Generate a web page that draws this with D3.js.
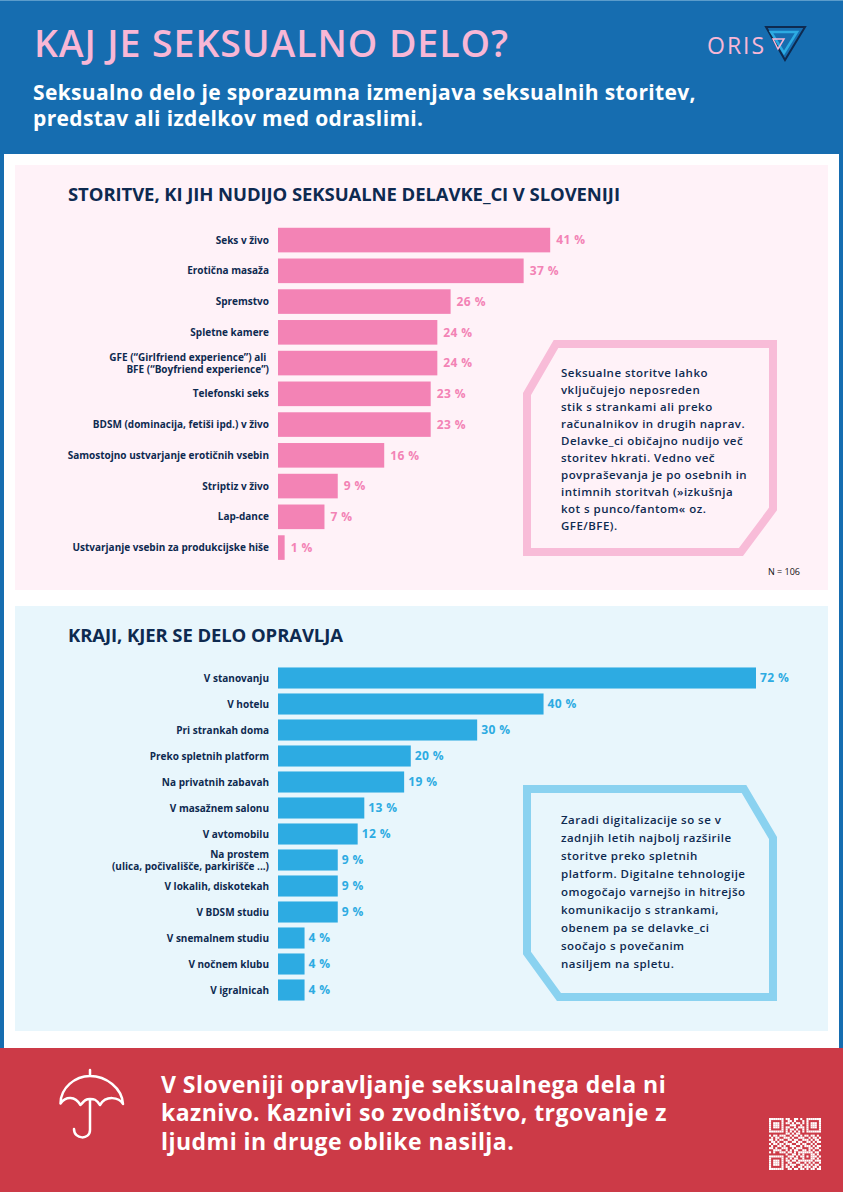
<!DOCTYPE html>
<html lang="sl">
<head>
<meta charset="utf-8">
<title>Kaj je seksualno delo?</title>
<script src="https://cdnjs.cloudflare.com/ajax/libs/d3/7.8.5/d3.min.js"></script>
<style>
  html, body { margin: 0; padding: 0; background: #fff; }
  svg { display: block; }
  text { font-family: "Open Sans", sans-serif; }
</style>
</head>
<body>
<div id="chart"></div>
<script>
// Storitve
const serviceLabels = [
    'Seks v živo',
    'Erotična masaža',
    'Spremstvo',
    'Spletne kamere',
    'GFE (“Girlfriend experience”) ali |BFE (“Boyfriend experience”)',
    'Telefonski seks',
    'BDSM (dominacija, fetiši ipd.) v živo',
    'Samostojno ustvarjanje erotičnih vsebin',
    'Striptiz v živo',
    'Lap-dance',
    'Ustvarjanje vsebin za produkcijske hiše'
];
const serviceValues = [41, 37, 26, 24, 24, 23, 23, 16, 9, 7, 1];

// Kraji
const placeLabels = [
    'V stanovanju',
    'V hotelu',
    'Pri strankah doma',
    'Preko spletnih platform',
    'Na privatnih zabavah',
    'V masažnem salonu',
    'V avtomobilu',
    'Na prostem|(ulica, počivališče, parkirišče ...)',
    'V lokalih, diskotekah',
    'V BDSM studiu',
    'V snemalnem studiu',
    'V nočnem klubu',
    'V igralnicah'
];
const placeValues = [72, 40, 30, 20, 19, 13, 12, 9, 9, 9, 4, 4, 4];

const subtitleLines = [
    'Seksualno delo je sporazumna izmenjava seksualnih storitev,',
    'predstav ali izdelkov med odraslimi.'
];
const serviceNote = [
    'Seksualne storitve lahko',
    'vključujejo neposreden',
    'stik s strankami ali preko',
    'računalnikov in drugih naprav.',
    'Delavke_ci običajno nudijo več',
    'storitev hkrati. Vedno več',
    'povpraševanja je po osebnih in',
    'intimnih storitvah (»izkušnja',
    'kot s punco/fantom« oz.',
    'GFE/BFE).'
];
const placeNote = [
    'Zaradi digitalizacije so se v',
    'zadnjih letih najbolj razširile',
    'storitve preko spletnih',
    'platform. Digitalne tehnologije',
    'omogočajo varnejšo in hitrejšo',
    'komunikacijo s strankami,',
    'obenem pa se delavke_ci',
    'soočajo s povečanim',
    'nasiljem na spletu.'
];
const footerLines = [
    'V Sloveniji opravljanje seksualnega dela ni',
    'kaznivo. Kaznivi so zvodništvo, trgovanje z',
    'ljudmi in druge oblike nasilja.'
];
const qrRows = [
    '1111111011001101001111111',
    '1000001001101000101000001',
    '1011101011010110101011101',
    '1011101000111001001011101',
    '1011101011001011101011101',
    '1000001010110100101000001',
    '1111111010101010101111111',
    '0000000011010110000000000',
    '1011011100101101011011010',
    '0101100111010011100101101',
    '1101011001101100111010110',
    '0110100110011011001101011',
    '1011011011100110110010100',
    '0100110100111001011101011',
    '1101001110010111000110110',
    '0011110010101100110101001',
    '1010011101101011111110110',
    '0000000010011010100011010',
    '1111111001110101101011101',
    '1000001010101100100011010',
    '1011101011011011111110111',
    '1011101001100110010101001',
    '1011101010111001101010110',
    '1000001011010011011101101',
    '1111111001101101101011011'
];

const navy = '#0e2a50';
const svg = d3.select('#chart').append('svg').attr('width', 843).attr('height', 1192);

// Ozadje
svg.append('rect').attr('width', 843).attr('height', 1192).attr('fill', '#166db0');
svg.append('rect').attr('width', 843).attr('height', 1).attr('fill', '#5b9ccb');
svg.append('rect').attr('x', 4).attr('y', 154).attr('width', 835).attr('height', 894).attr('fill', '#fff');
svg.append('rect').attr('x', 15).attr('y', 165).attr('width', 813).attr('height', 425).attr('fill', '#fff2f8');
svg.append('rect').attr('x', 15).attr('y', 606).attr('width', 813).attr('height', 425).attr('fill', '#e8f6fc');
svg.append('rect').attr('y', 1048).attr('width', 843).attr('height', 144).attr('fill', '#cc3a47');

// Glava
svg.append('text').attr('x', 34).attr('y', 57).attr('font-size', 37.5).attr('font-weight', 600)
    .attr('fill', '#f8b7d6').attr('textLength', 474).attr('lengthAdjust', 'spacing')
    .text('KAJ JE SEKSUALNO DELO?');
svg.append('text').attr('font-size', 21).attr('font-weight', 700)
    .attr('letter-spacing', 0.35).attr('fill', '#fff')
    .selectAll('tspan').data(subtitleLines).join('tspan')
    .attr('x', 33).attr('y', (d, i) => 100 + i * 26).text(d => d);

// Logotip
svg.append('text').attr('x', 707).attr('y', 54).attr('font-size', 23).attr('letter-spacing', 2)
    .attr('fill', '#f8b7d6').text('ORIS');
const triangle = (a, b, c, color, width) => svg.append('path')
    .attr('d', d3.line()([a, b, c]) + 'Z')
    .attr('fill', 'none').attr('stroke', color).attr('stroke-width', width);
triangle([766, 27], [805, 27], [785, 60], navy, 2);
triangle([771, 32], [797, 32], [784, 53], '#2dabe2', 2.5);
triangle([773, 39], [784, 39], [778, 49], '#f8b7d6', 1.5);

// Stolpični graf
function drawBars(cfg) {
    const x = d3.scaleLinear().domain([0, 72]).range([278, 756]);
    const y = d3.scaleBand().domain(cfg.labels)
        .range([cfg.top, cfg.top + cfg.step * cfg.labels.length]).paddingInner(cfg.gap).paddingOuter(cfg.gap / 2);
    const g = svg.append('g');

    g.append('text').attr('x', 68).attr('y', cfg.titleY).attr('font-size', 18.5).attr('font-weight', 700)
        .attr('fill', navy).attr('textLength', cfg.titleWidth).attr('lengthAdjust', 'spacing')
        .text(cfg.title);

    g.selectAll('rect.bar').data(cfg.values).join('rect')
        .attr('class', 'bar')
        .attr('x', x(0))
        .attr('y', (d, i) => y(cfg.labels[i]))
        .attr('width', d => x(d) - x(0))
        .attr('height', y.bandwidth())
        .attr('fill', cfg.color);

    g.selectAll('text.value').data(cfg.values).join('text')
        .attr('class', 'value')
        .attr('x', d => x(d) + cfg.valueGap)
        .attr('y', (d, i) => y(cfg.labels[i]) + y.bandwidth() / 2)
        .attr('dy', '0.36em')
        .attr('font-size', 12).attr('font-weight', 700).attr('letter-spacing', 0.4)
        .attr('fill', cfg.color)
        .text(d => d + ' %');

    const axis = g.append('g').attr('transform', 'translate(269,0)')
        .call(d3.axisLeft(y).tickSize(0).tickPadding(0));
    axis.select('.domain').remove();
    axis.selectAll('text').each(function (d) {
        const parts = d.split('|');
        const t = d3.select(this).text(null)
            .attr('font-family', '"Open Sans", sans-serif')
            .attr('font-size', 10).attr('font-weight', 700)
            .attr('fill', navy).attr('dy', null).attr('x', 0)
            .attr('dominant-baseline', 'auto');
        parts.forEach((p, i) => {
            t.append('tspan').attr('x', 0)
                .attr('y', (i - (parts.length - 1) / 2) * 12 + 3.5)
                .attr('xml:space', 'preserve')
                .text(p);
        });
    });
}

drawBars({
    title: 'STORITVE, KI JIH NUDIJO SEKSUALNE DELAVKE_CI V SLOVENIJI', titleY: 201, titleWidth: 552,
    labels: serviceLabels, values: serviceValues, top: 224.7, step: 30.75, gap: 0.2,
    color: '#f383b5', valueGap: 6
});
drawBars({
    title: 'KRAJI, KJER SE DELO OPRAVLJA', titleY: 642, titleWidth: 275,
    labels: placeLabels, values: placeValues, top: 665, step: 26, gap: 0.19,
    color: '#2dabe2', valueGap: 4
});

// Okvirja z besedilom
const outline = (points, color) => svg.append('path')
    .attr('d', d3.line()(points) + 'Z')
    .attr('fill', 'none').attr('stroke', color).attr('stroke-width', 8);
outline([[556, 344], [773, 344], [773, 509], [741, 552], [527, 552], [527, 394]], '#f8bcd8');
outline([[527, 789], [744, 789], [773, 838], [773, 997], [559, 997], [527, 953]], '#8ad2f0');

const noteBlock = (lines, top, step) => svg.append('g').selectAll('text').data(lines).join('text')
    .attr('x', 561).attr('y', (d, i) => top + i * step)
    .attr('font-size', 11.5).attr('font-weight', 600).attr('letter-spacing', 0.47)
    .attr('fill', navy).text(d => d);
noteBlock(serviceNote, 377, 17);
noteBlock(placeNote, 824, 18);

svg.append('text').attr('x', 800).attr('y', 575).attr('text-anchor', 'end')
    .attr('font-size', 9).attr('fill', '#111').text('N = 106');

// Noga
svg.append('text').attr('font-size', 23).attr('font-weight', 700).attr('letter-spacing', 0.47)
    .attr('fill', '#fff')
    .selectAll('tspan').data(footerLines).join('tspan')
    .attr('x', 161).attr('y', (d, i) => 1093 + i * 28.3).text(d => d);

// Dežnik
svg.append('path')
    .attr('d', 'M90 1070V1076M60.5 1103.5C60.5 1088 75 1076 90 1076C106 1076 122 1088 123 1104'
        + 'C119 1097 106 1095 100 1105C96 1099 94 1099 90 1099C86 1099 85 1100 80.5 1105C75 1096 66 1096 60.5 1103.5Z'
        + 'M90 1099V1130C90 1140 74 1140 74 1129')
    .attr('fill', 'none').attr('stroke', '#fff').attr('stroke-width', 2.5)
    .attr('stroke-linejoin', 'round').attr('stroke-linecap', 'round');

// QR koda
const qr = d3.scaleBand().domain(d3.range(qrRows[0].length)).range([0, 52]);
const qrCells = qrRows.flatMap((row, r) => row.split('').map((v, c) => ({ r, c, v })).filter(d => d.v === '1'));
svg.append('g').attr('transform', 'translate(769,1118)')
    .selectAll('rect').data(qrCells).join('rect')
    .attr('x', d => qr(d.c)).attr('y', d => qr(d.r))
    .attr('width', qr.bandwidth()).attr('height', qr.bandwidth())
    .attr('fill', '#fff');
</script>
</body>
</html>
